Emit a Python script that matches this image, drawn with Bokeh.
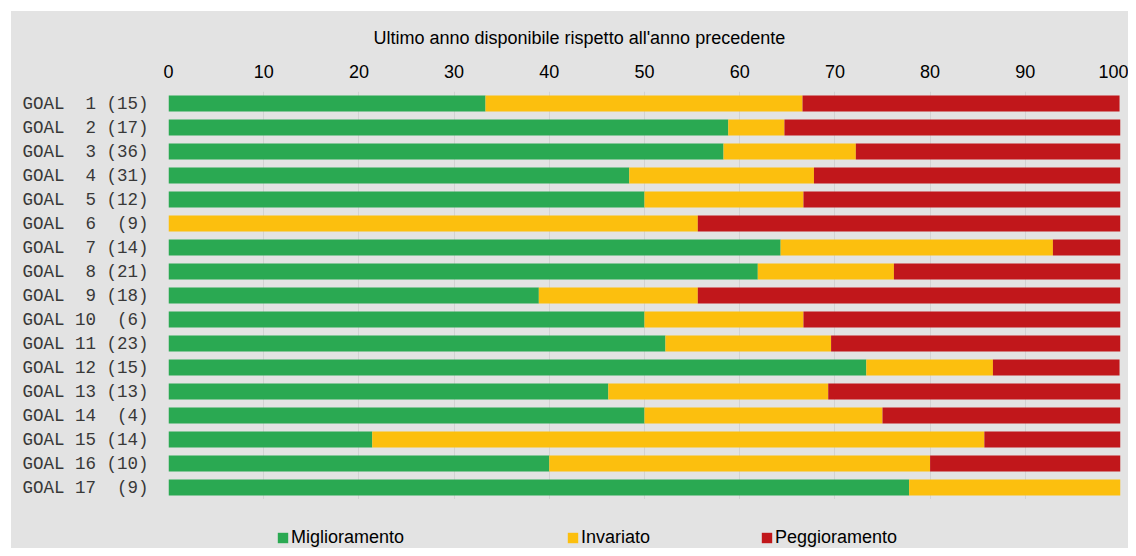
from bokeh.plotting import figure
from bokeh.models import ColumnDataSource, Legend, LegendItem, FactorRange, Title
from bokeh.layouts import column
from bokeh.embed import file_html
from bokeh.resources import INLINE

NB = "\u00a0"
goals = ["GOAL  1 (15)", "GOAL  2 (17)", "GOAL  3 (36)", "GOAL  4 (31)", "GOAL  5 (12)",
         "GOAL  6  (9)", "GOAL  7 (14)", "GOAL  8 (21)", "GOAL  9 (18)", "GOAL 10  (6)",
         "GOAL 11 (23)", "GOAL 12 (15)", "GOAL 13 (13)", "GOAL 14  (4)", "GOAL 15 (14)",
         "GOAL 16 (10)", "GOAL 17  (9)"]
miglioramento = [33.3, 58.8, 58.3, 48.4, 50.0, 0.0, 64.3, 61.9, 38.9, 50.0, 52.2, 73.3, 46.2, 50.0, 21.4, 40.0, 77.8]
invariato = [33.3, 5.9, 13.9, 19.4, 16.7, 55.6, 28.6, 14.3, 16.7, 16.7, 17.4, 13.3, 23.1, 25.0, 64.3, 40.0, 22.2]
peggioramento = [33.3, 35.3, 27.8, 32.3, 33.3, 44.4, 7.1, 23.8, 44.4, 33.3, 30.4, 13.3, 30.8, 25.0, 14.3, 20.0, 0.0]
series = ["Miglioramento", "Invariato", "Peggioramento"]
colors = ["#2aa952", "#fcbf0e", "#c1171b"]
title_text = "Ultimo anno disponibile rispetto all'anno precedente"
x_ticks = list(range(0, 101, 10))

BG = "#e3e3e3"
labels = [g.replace(" ", NB) for g in goals]
src = ColumnDataSource(dict(goal=labels, m=miglioramento, i=invariato, p=peggioramento))

p = figure(width=1117, height=488, y_range=FactorRange(*reversed(labels)), x_range=(0, 100),
           x_axis_location="above", output_backend="svg", toolbar_location=None,
           min_border_left=157, min_border_right=8, min_border_top=79, min_border_bottom=0)
p.background_fill_color = BG
p.border_fill_color = BG
p.outline_line_color = None

renderers = p.hbar_stack(["m", "i", "p"], y="goal", height=0.67, source=src,
                         color=colors, line_color=None)

p.xaxis.ticker = x_ticks
p.xaxis.axis_line_color = None
p.xaxis.major_tick_line_color = None
p.xaxis.minor_tick_line_color = None
p.xaxis.major_label_text_font = "Liberation Sans"
p.xaxis.major_label_text_font_size = "18px"
p.xaxis.major_label_text_color = "#000000"
p.xaxis.major_label_standoff = 8

p.yaxis.axis_line_color = None
p.yaxis.major_tick_line_color = None
p.yaxis.minor_tick_line_color = None
p.yaxis.major_label_text_font = "Liberation Mono"
p.yaxis.major_label_text_font_size = "17.5px"
p.yaxis.major_label_text_color = "#383838"
p.yaxis.major_label_standoff = 14

p.xgrid.grid_line_color = "#d2d2d2"
p.ygrid.grid_line_color = None

p.add_layout(Title(text=title_text, align="left", offset=205, text_font="Liberation Sans",
                   text_font_size="18px", text_font_style="normal", text_color="#000000",
                   standoff=28), "above")

# legend strip below the chart
lg = figure(width=1117, height=49, x_range=(0, 1), y_range=(0, 1), x_axis_type=None,
            y_axis_type=None, output_backend="svg", toolbar_location=None,
            min_border=0)
lg.background_fill_color = None
lg.border_fill_color = None
lg.outline_line_color = None
lg.xgrid.visible = False
lg.ygrid.visible = False

xs = [108, 398, 592]
for name, c, x in zip(series, colors, xs):
    # zero-size proxy mark, only used to give the legend its colour swatch
    r = lg.hbar(y=[0], left=[0], right=[0], height=0, color=c, line_color=None)
    leg = Legend(items=[LegendItem(label=name, renderers=[r])], location=(x, 0),
                 orientation="horizontal", padding=0, margin=0, border_line_color=None,
                 background_fill_alpha=0, glyph_width=13, glyph_height=13, label_standoff=2,
                 label_text_font="Liberation Sans", label_text_font_size="18px",
                 label_text_color="#000000", label_height=20)
    lg.add_layout(leg)

layout = column(p, lg, spacing=0, margin=(11, 0, 0, 11))
layout.styles = {"background-color": BG}
open("out.html", "w").write(file_html(layout, INLINE))
